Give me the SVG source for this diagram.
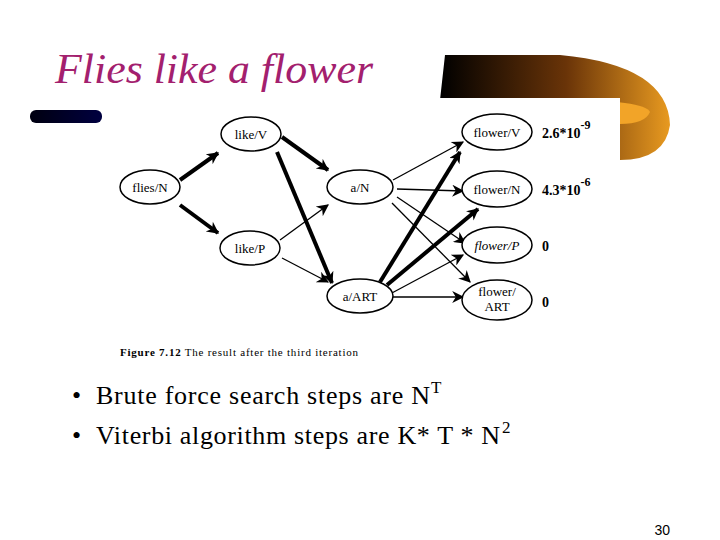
<svg xmlns="http://www.w3.org/2000/svg" width="720" height="540" viewBox="0 0 720 540">
<defs>
<linearGradient id="g" x1="0" y1="0" x2="1" y2="0"><stop offset="0" stop-color="#000"/><stop offset="0.55" stop-color="#6a3408"/><stop offset="1" stop-color="#e89a20"/></linearGradient>
<linearGradient id="gb" x1="0" y1="0" x2="1" y2="0"><stop offset="0" stop-color="#000010"/><stop offset="1" stop-color="#000040"/></linearGradient>
<marker id="at" viewBox="0 0 10 10" refX="9" refY="5" markerWidth="14" markerHeight="12" orient="auto" markerUnits="userSpaceOnUse"><path d="M0,0 L10,5 L0,10 L3,5 Z" fill="#000"/></marker>
</defs>
<style>
.n ellipse{fill:#fff;stroke:#000;stroke-width:1.5}
.n text{font-family:"Liberation Serif",serif;font-size:13px;text-anchor:middle}
.thin{stroke:#000;stroke-width:1.3;fill:none;marker-end:url(#at)}
.thick{stroke:#000;stroke-width:4;fill:none;marker-end:url(#at)}
.v{font-family:"Liberation Serif",serif;font-size:14px;font-weight:bold}
.b{font-family:"Liberation Serif",serif;font-size:26px}
.s{font-family:"Liberation Serif",serif;font-size:17px}
</style>
<rect width="720" height="540" fill="#fff"/>
<g id="decor">
<path d="M445,55 L560,55 Q668,65 670,125 Q665,160 620,160 L620,100 L440,100 Z" fill="url(#g)"/>
<path d="M560,100 Q645,100 650,112 Q645,124 620,124 L560,124 Z" fill="#f2a428"/>
<rect x="30" y="110" width="72" height="13" rx="6" fill="url(#gb)"/>
<rect x="115" y="98" width="505" height="264" fill="#fff"/>
</g>
<text x="55" y="83" font-family="Liberation Serif,serif" font-style="italic" font-size="42" fill="#a3206e" textLength="318" lengthAdjust="spacingAndGlyphs">Flies like a flower</text>
<g id="connectors">
<line class="thick" x1="180" y1="180" x2="218" y2="153"/>
<line class="thick" x1="180" y1="205" x2="218" y2="233"/>
<line class="thick" x1="282" y1="137" x2="328" y2="170"/>
<line class="thick" x1="277" y1="152" x2="332" y2="283"/>
<line class="thin" x1="280" y1="240" x2="328" y2="205"/>
<line class="thin" x1="282" y1="258" x2="328" y2="282"/>
<line class="thin" x1="393" y1="180" x2="463" y2="142"/>
<line class="thin" x1="397" y1="189" x2="463" y2="191"/>
<line class="thin" x1="397" y1="197" x2="465" y2="243"/>
<line class="thin" x1="392" y1="203" x2="470" y2="282"/>
<line class="thick" x1="380" y1="282" x2="460" y2="152"/>
<line class="thick" x1="387" y1="285" x2="478" y2="209"/>
<line class="thin" x1="390" y1="294" x2="463" y2="255"/>
<line class="thin" x1="393" y1="297" x2="463" y2="297"/>
</g>
<g id="n-flies" class="n"><ellipse cx="150" cy="187" rx="30" ry="17"/><text x="150" y="192">flies/N</text></g>
<g id="n-likeV" class="n"><ellipse cx="251" cy="134" rx="30" ry="17"/><text x="251" y="139">like/V</text></g>
<g id="n-likeP" class="n"><ellipse cx="250" cy="248" rx="30" ry="17"/><text x="250" y="253">like/P</text></g>
<g id="n-aN" class="n"><ellipse cx="360" cy="187" rx="33" ry="17"/><text x="360" y="192">a/N</text></g>
<g id="n-aART" class="n"><ellipse cx="360" cy="296" rx="33" ry="17"/><text x="360" y="301">a/ART</text></g>
<g id="n-fV" class="n"><ellipse cx="497" cy="132" rx="35" ry="18"/><text x="497" y="137">flower/V</text></g>
<g id="n-fN" class="n"><ellipse cx="497" cy="189" rx="35" ry="18"/><text x="497" y="194">flower/N</text></g>
<g id="n-fP" class="n"><ellipse cx="497" cy="245" rx="35" ry="18"/><text x="497" y="250" font-style="italic">flower/P</text></g>
<g id="n-fART" class="n"><ellipse cx="497" cy="300" rx="35" ry="20"/><text x="497" y="296">flower/</text><text x="497" y="311">ART</text></g>
<text class="v" x="542" y="138">2.6*10<tspan dy="-9" font-size="12">-9</tspan></text>
<text class="v" x="542" y="195">4.3*10<tspan dy="-9" font-size="12">-6</tspan></text>
<text class="v" x="542" y="251">0</text>
<text class="v" x="542" y="307">0</text>
<text x="120" y="356" font-family="Liberation Serif,serif" font-size="11" textLength="238"><tspan font-weight="bold">Figure 7.12</tspan>   The result after the third iteration</text>
<text class="b" x="72" y="404">•</text><text class="b" x="96" y="404" textLength="334">Brute force search steps are N</text><text class="s" x="431" y="393">T</text>
<text class="b" x="72" y="444">•</text><text class="b" x="96" y="444" textLength="404">Viterbi algorithm steps are K* T * N</text><text class="s" x="502" y="433">2</text>
<text x="670" y="535" font-family="Liberation Sans,sans-serif" font-size="14" text-anchor="end">30</text>
</svg>
